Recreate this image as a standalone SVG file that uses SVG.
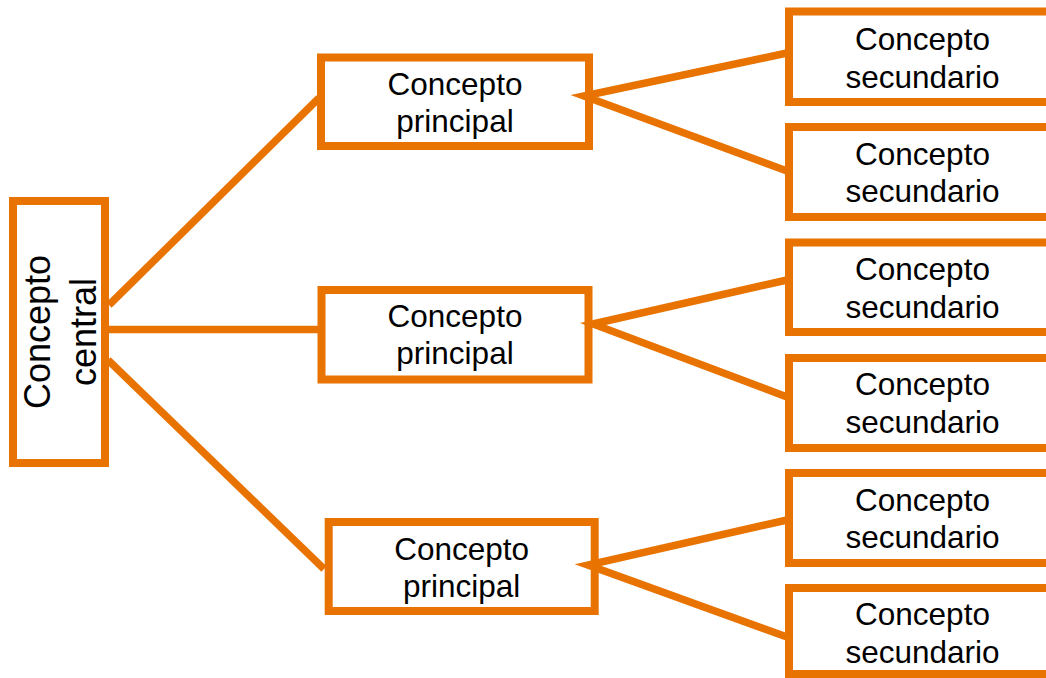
<svg xmlns="http://www.w3.org/2000/svg" width="1046" height="678" viewBox="0 0 1046 678">
<style>
.box{fill:#fff;stroke:#E97300;stroke-width:8}
.t{font-family:"Liberation Sans",Arial,sans-serif;font-size:31.5px;fill:#000;text-anchor:middle}
.tc{font-family:"Liberation Sans",Arial,sans-serif;font-size:36px;fill:#000;text-anchor:middle}
.ln{stroke:#E97300;stroke-width:7.5;fill:none;stroke-linecap:butt}
</style>
<rect width="1046" height="678" fill="#fff"/>
<g id="central">
<rect class="box" x="13" y="201" width="92" height="262"/>
<g transform="translate(59,332) rotate(-90)">
<text class="tc" x="0" y="-9">Concepto</text>
<text class="tc" x="0" y="37">central</text>
</g>
</g>
<g id="principal1">
<rect class="box" x="321" y="57.5" width="268" height="88.5"/>
<text class="t" x="455" y="95">Concepto</text>
<text class="t" x="455" y="132">principal</text>
</g>
<g id="principal2">
<rect class="box" x="321.5" y="290" width="267" height="89.5"/>
<text class="t" x="455" y="327">Concepto</text>
<text class="t" x="455" y="364">principal</text>
</g>
<g id="principal3">
<rect class="box" x="328.7" y="522" width="266" height="89"/>
<text class="t" x="461.7" y="560">Concepto</text>
<text class="t" x="461.7" y="597">principal</text>
</g>
<g id="secundario1">
<rect class="box" x="789" y="11.5" width="267" height="90.5"/>
<text class="t" x="922.5" y="50">Concepto</text>
<text class="t" x="922.5" y="88">secundario</text>
</g>
<g id="secundario2">
<rect class="box" x="789" y="127" width="267" height="90"/>
<text class="t" x="922.5" y="165">Concepto</text>
<text class="t" x="922.5" y="202">secundario</text>
</g>
<g id="secundario3">
<rect class="box" x="789" y="242.5" width="267" height="89.5"/>
<text class="t" x="922.5" y="280">Concepto</text>
<text class="t" x="922.5" y="318">secundario</text>
</g>
<g id="secundario4">
<rect class="box" x="789" y="358" width="267" height="90"/>
<text class="t" x="922.5" y="395">Concepto</text>
<text class="t" x="922.5" y="433">secundario</text>
</g>
<g id="secundario5">
<rect class="box" x="789" y="473" width="267" height="90"/>
<text class="t" x="922.5" y="511">Concepto</text>
<text class="t" x="922.5" y="548">secundario</text>
</g>
<g id="secundario6">
<rect class="box" x="789" y="588" width="267" height="86"/>
<text class="t" x="922.5" y="625">Concepto</text>
<text class="t" x="922.5" y="663">secundario</text>
</g>
<g id="connectors">
<line class="ln" x1="109" y1="305" x2="319" y2="98"/>
<line class="ln" x1="105" y1="329.5" x2="318" y2="329.5"/>
<line class="ln" x1="108" y1="360" x2="324" y2="569"/>
<polyline class="ln" points="787,53 584,96 787,171"/>
<polyline class="ln" points="787,280 593,324 787,397"/>
<polyline class="ln" points="787,520 588,565 787,637"/>
</g>
</svg>
